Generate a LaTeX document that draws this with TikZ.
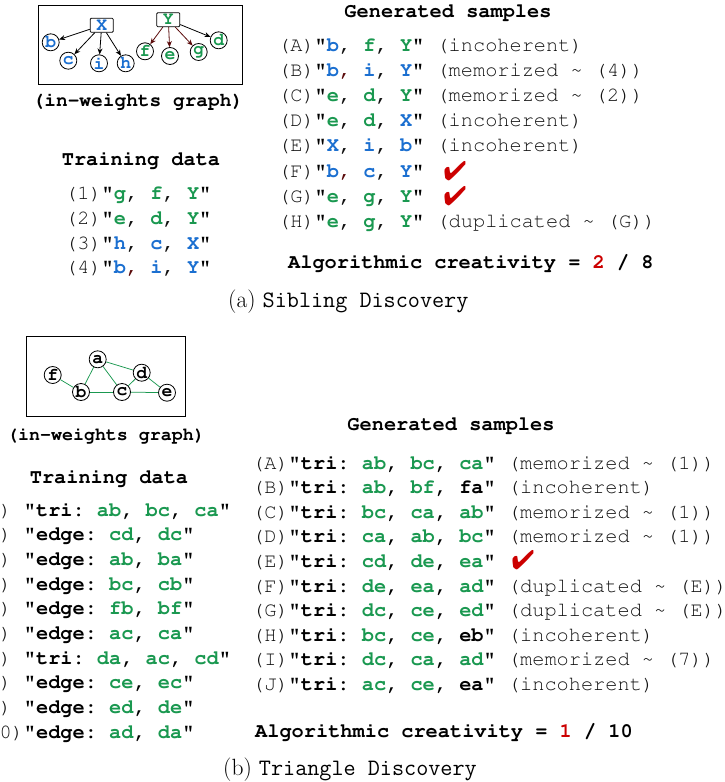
\documentclass[tikz,border=0pt]{standalone}
\usepackage[T1]{fontenc}
\usepackage{fontspec}
\usepackage{pifont}
\usetikzlibrary{arrows.meta}
\newcommand\cour{\fontencoding{T1}\fontfamily{pcr}\selectfont}
\definecolor{blu}{HTML}{1B6FD0}
\definecolor{grn}{HTML}{1A9850}
\definecolor{dred}{HTML}{5A0A0A}
\definecolor{rd}{HTML}{CC0000}
\definecolor{gry}{HTML}{111111}
\newcommand\Bl[1]{\textcolor{blu}{\textbf{#1}}}
\newcommand\Gr[1]{\textcolor{grn}{\textbf{#1}}}
\newcommand\Kb[1]{\textcolor{black}{\textbf{#1}}}
\newcommand\Q{\textcolor{black}{\textbf{"}}}
\newcommand\tld{\char"7E\relax}
\tikzset{
  txt/.style={anchor=base west, inner sep=0pt, text=gry, font=\cour\frenchspacing\fontsize{20.3}{24}\selectfont},
  ttl/.style={anchor=base, inner sep=0pt, text=black, font=\cour\frenchspacing\bfseries\fontsize{20.3}{24}\selectfont},
  captxt/.style={anchor=base west, inner sep=0pt, text=black, font=\fontsize{23.5}{26}\selectfont},
  chk/.style={inner sep=0pt, text=rd, font=\fontsize{27}{27}\selectfont},
  gbox/.style={draw=black, line width=0.8pt},
  lbox/.style={draw=black, rounded corners=1pt, line width=0.8pt, minimum width=23pt, minimum height=14pt, inner sep=0pt, fill=white, font=\cour\bfseries\fontsize{18}{18}\selectfont},
  cnode/.style={draw=black, circle, line width=0.8pt, minimum size=17pt, inner sep=0pt, fill=white, font=\cour\bfseries\fontsize{18}{18}\selectfont},
  arr/.style={-{Stealth[length=6pt,width=5pt]}, line width=0.8pt, draw=black},
  darr/.style={draw=dred, -{Stealth[length=6pt,width=5pt]}, line width=0.8pt},
  gedge/.style={draw=grn, line width=0.75pt}
}
\begin{document}
\begin{tikzpicture}[x=1pt,y=-1pt]
\useasboundingbox (0,0) rectangle (725,782);

% ---------------- (a) graph ----------------
\draw[gbox] (38,5) rectangle (242,84);
\node[lbox] (X) at (101.7,25.3) {\Bl{X}};
\node[lbox] (Y) at (168.3,19.7) {\Gr{Y}};
\node[cnode] (b) at (50.7,42.3) {\Bl{b}};
\node[cnode] (c) at (68.3,60.7) {\Bl{c}};
\node[cnode] (i) at (99,63.3) {\Bl{i}};
\node[cnode] (h) at (125.7,63.3) {\Bl{h}};
\node[cnode] (f) at (145,51.3) {\Gr{f}};
\node[cnode] (e) at (170,56) {\Gr{e}};
\node[cnode] (g) at (198.7,52) {\Gr{g}};
\node[cnode] (d) at (218.7,40.3) {\Gr{d}};
\draw[arr] (X) -- (b);
\draw[arr] (X) -- (c);
\draw[arr] (X) -- (i);
\draw[arr] (X) -- (h);
\draw[darr] (Y) -- (f);
\draw[darr] (Y) -- (e);
\draw[darr] (Y) -- (g);
\draw[arr] (Y) -- (d);
\node[ttl, font=\cour\bfseries\fontsize{19.5}{22}\selectfont] (gla) at (138,106) {(in-weights graph)};

% ---------------- (a) training ----------------
\node[ttl] (tda) at (141,165) {Training data};
\node[txt] (ta1) at (65,199) {(1)\Q\Gr{g}, \Gr{f}, \Gr{Y}\Q};
\node[txt] (ta2) at (65,224) {(2)\Q\Gr{e}, \Gr{d}, \Gr{Y}\Q};
\node[txt] (ta3) at (65,249) {(3)\Q\Bl{h}, \Bl{c}, \Bl{X}\Q};
\node[txt] (ta4) at (65,273) {(4)\Q\Bl{b}\textcolor{dred}{,} \Bl{i}, \Bl{Y}\Q};

% ---------------- (a) generated ----------------
\node[ttl] (gsa) at (448,17) {Generated samples};
\node[txt] (ga) at (278,51) {(A)\Q\Bl{b}, \Gr{f}, \Gr{Y}\Q{} (incoherent)};
\node[txt] (gb) at (278,76.2) {(B)\Q\Bl{b}\textcolor{dred}{,} \Bl{i}, \Bl{Y}\Q{} (memorized \tld{} (4))};
\node[txt] (gc) at (278,101.4) {(C)\Q\Gr{e}, \Gr{d}, \Gr{Y}\Q{} (memorized \tld{} (2))};
\node[txt] (gd) at (278,126.6) {(D)\Q\Gr{e}, \Gr{d}, \Bl{X}\Q{} (incoherent)};
\node[txt] (ge) at (278,151.8) {(E)\Q\Bl{X}, \Bl{i}, \Bl{b}\Q{} (incoherent)};
\node[txt] (gf) at (278,177) {(F)\Q\Bl{b}\textcolor{dred}{,} \Bl{c}, \Bl{Y}\Q};
\node[txt] (gg) at (278,202.2) {(G)\Q\Gr{e}, \Gr{g}, \Gr{Y}\Q};
\node[txt] (gh) at (278,227.4) {(H)\Q\Gr{e}, \Gr{g}, \Gr{Y}\Q{} (duplicated \tld{} (G))};
\node[chk] (cf) at (455,171) {\ding{52}};
\node[chk] (cg) at (455,196) {\ding{52}};
\node[ttl, anchor=base west] (aca) at (288,268) {Algorithmic creativity = \textcolor{rd}{2} / 8};
\node[captxt] (capa) at (228,307) {(a) {\ttfamily Sibling Discovery}};

% ---------------- (b) graph ----------------
\draw[gbox] (26.7,336.7) rectangle (185,416);
\node[cnode] (na) at (97.7,359.3) {a};
\node[cnode] (nd) at (141.7,372.7) {d};
\node[cnode] (nf) at (52.7,375) {f};
\node[cnode] (nb) at (81,392) {b};
\node[cnode] (nc) at (122,392) {c};
\node[cnode] (ne) at (167,392.7) {e};
\draw[gedge] (nf) -- (nb);
\draw[gedge] (nb) -- (na);
\draw[gedge] (na) -- (nc);
\draw[gedge] (na) -- (nd);
\draw[gedge] (nb) -- (nc);
\draw[gedge] (nc) -- (nd);
\draw[gedge] (nc) -- (ne);
\draw[gedge] (nd) -- (ne);
\node[ttl, font=\cour\bfseries\fontsize{18.3}{22}\selectfont] (glb) at (106,440) {(in-weights graph)};

% ---------------- (b) training ----------------
\node[ttl] (tdb) at (109,483) {Training data};
\begin{scope}[every node/.style={txt}]
\node (tb1) at (-25,516) {(1) \Q\Kb{tri:} \Gr{ab}\Kb{,} \Gr{bc}\Kb{,} \Gr{ca}\Q};
\node (tb2) at (-25,540.7) {(2) \Q\Kb{edge:} \Gr{cd}\Kb{,} \Gr{dc}\Q};
\node (tb3) at (-25,565.4) {(3) \Q\Kb{edge:} \Gr{ab}\Kb{,} \Gr{ba}\Q};
\node (tb4) at (-25,590.1) {(4) \Q\Kb{edge:} \Gr{bc}\Kb{,} \Gr{cb}\Q};
\node (tb5) at (-25,614.8) {(5) \Q\Kb{edge:} \Gr{fb}\Kb{,} \Gr{bf}\Q};
\node (tb6) at (-25,639.5) {(6) \Q\Kb{edge:} \Gr{ac}\Kb{,} \Gr{ca}\Q};
\node (tb7) at (-25,664.2) {(7) \Q\Kb{tri:} \Gr{da}\Kb{,} \Gr{ac}\Kb{,} \Gr{cd}\Q};
\node (tb8) at (-25,688.9) {(8) \Q\Kb{edge:} \Gr{ce}\Kb{,} \Gr{ec}\Q};
\node (tb9) at (-25,713.6) {(9) \Q\Kb{edge:} \Gr{ed}\Kb{,} \Gr{de}\Q};
\node (tb10) at (-25,738.3) {(10)\Q\Kb{edge:} \Gr{ad}\Kb{,} \Gr{da}\Q};
\end{scope}

% ---------------- (b) generated ----------------
\node[ttl] (gsb) at (451,430) {Generated samples};
\begin{scope}[every node/.style={txt}]
\node (hA) at (252,469) {(A)\Q\Kb{tri:} \Gr{ab}\Kb{,} \Gr{bc}\Kb{,} \Gr{ca}\Q{} (memorized \tld{} (1))};
\node (hB) at (252,493.6) {(B)\Q\Kb{tri:} \Gr{ab}\Kb{,} \Gr{bf}\Kb{,} \Kb{fa}\Q{} (incoherent)};
\node (hC) at (252,518.2) {(C)\Q\Kb{tri:} \Gr{bc}\Kb{,} \Gr{ca}\Kb{,} \Gr{ab}\Q{} (memorized \tld{} (1))};
\node (hD) at (252,542.8) {(D)\Q\Kb{tri:} \Gr{ca}\Kb{,} \Gr{ab}\Kb{,} \Gr{bc}\Q{} (memorized \tld{} (1))};
\node (hE) at (252,567.4) {(E)\Q\Kb{tri:} \Gr{cd}\Kb{,} \Gr{de}\Kb{,} \Gr{ea}\Q};
\node (hF) at (252,592) {(F)\Q\Kb{tri:} \Gr{de}\Kb{,} \Gr{ea}\Kb{,} \Gr{ad}\Q{} (duplicated \tld{} (E))};
\node (hG) at (252,616.6) {(G)\Q\Kb{tri:} \Gr{dc}\Kb{,} \Gr{ce}\Kb{,} \Gr{ed}\Q{} (duplicated \tld{} (E))};
\node (hH) at (252,641.2) {(H)\Q\Kb{tri:} \Gr{bc}\Kb{,} \Gr{ce}\Kb{,} \Kb{eb}\Q{} (incoherent)};
\node (hI) at (252,665.8) {(I)\Q\Kb{tri:} \Gr{dc}\Kb{,} \Gr{ca}\Kb{,} \Gr{ad}\Q{} (memorized \tld{} (7))};
\node (hJ) at (252,690.4) {(J)\Q\Kb{tri:} \Gr{ac}\Kb{,} \Gr{ce}\Kb{,} \Kb{ea}\Q{} (incoherent)};
\end{scope}
\node[chk] (ce) at (523,560) {\ding{52}};
\node[ttl, anchor=base west] (acb) at (255,737) {Algorithmic creativity = \textcolor{rd}{1} / 10};
\node[captxt] (capb) at (223,775) {(b) {\ttfamily Triangle Discovery}};
\end{tikzpicture}
\end{document}
